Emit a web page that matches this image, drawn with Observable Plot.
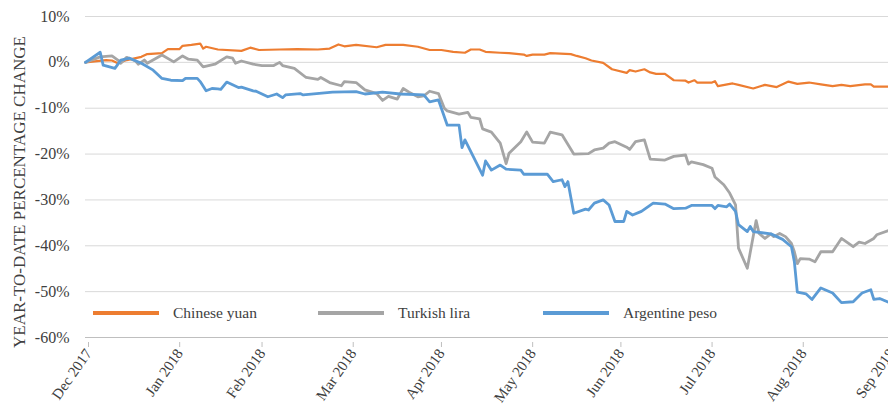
<!DOCTYPE html>
<html><head><meta charset="utf-8">
<script src="https://cdn.jsdelivr.net/npm/d3@7"></script>
<script src="https://cdn.jsdelivr.net/npm/@observablehq/plot@0.6"></script>
<style>
html,body{margin:0;padding:0;background:#fff;}
#chart{position:relative;width:888px;height:405px;overflow:hidden;font-family:"Liberation Serif",serif;}
#legend{position:absolute;left:93px;top:303px;display:flex;}
.item{width:225px;height:20px;line-height:20px;display:flex;align-items:center;font-size:15.5px;color:#404040;white-space:nowrap;}
.sw{width:66px;height:4px;margin-right:14px;flex:none;}
#ylabel{position:absolute;left:19px;top:192px;transform:translate(-50%,-50%) rotate(-90deg);white-space:nowrap;font-size:17px;color:#404040;line-height:1;}
</style></head><body><div id="chart"><div id="ylabel"></div><div id="legend"></div></div>
<script>
const seriesNames = ["Chinese yuan", "Turkish lira", "Argentine peso"];
const seriesColors = ["#ED7D31", "#A5A5A5", "#5B9BD5"];
const yTicks = [10, 0, -10, -20, -30, -40, -50, -60];
const xTickDates = ["2017-12-31","2018-01-31","2018-02-28","2018-03-31","2018-04-30","2018-05-31","2018-06-30","2018-07-31","2018-08-31","2018-09-30"];
const xTickLabels = ["Dec 2017","Jan 2018","Feb 2018","Mar 2018","Apr 2018","May 2018","Jun 2018","Jul 2018","Aug 2018","Sep 2018"];
const yLabel = "YEAR-TO-DATE PERCENTAGE CHANGE";

const chineseYuan = [
["2017-12-31",0],["2018-01-07",0.5],["2018-01-09",0.4],["2018-01-11",-0.2],["2018-01-14",0.5],["2018-01-19",1.2],["2018-01-21",1.8],["2018-01-26",2.0],["2018-01-28",2.9],
["2018-02-01",2.9],["2018-02-02",3.6],["2018-02-05",3.8],["2018-02-08",4.1],["2018-02-09",3.0],["2018-02-10",3.4],["2018-02-14",2.8],["2018-02-22",2.5],["2018-02-25",3.2],["2018-02-28",2.7],
["2018-03-07",2.8],["2018-03-13",2.9],["2018-03-20",2.8],["2018-03-24",3.0],["2018-03-27",3.9],["2018-03-29",3.5],
["2018-04-02",3.8],["2018-04-09",3.3],["2018-04-12",3.8],["2018-04-18",3.8],["2018-04-23",3.4],["2018-04-27",2.7],
["2018-05-01",2.7],["2018-05-05",2.3],["2018-05-09",2.1],["2018-05-11",2.8],["2018-05-14",2.8],["2018-05-16",2.3],["2018-05-21",2.1],["2018-05-24",2.0],["2018-05-29",1.7],["2018-05-30",1.4],
["2018-06-01",1.7],["2018-06-05",1.7],["2018-06-07",2.0],["2018-06-14",1.8],["2018-06-16",1.4],["2018-06-19",0.9],["2018-06-21",0.4],["2018-06-25",-0.1],["2018-06-28",-1.5],
["2018-07-03",-2.3],["2018-07-04",-1.7],["2018-07-06",-2.0],["2018-07-09",-1.5],["2018-07-11",-2.2],["2018-07-13",-2.5],["2018-07-16",-2.5],["2018-07-19",-3.9],["2018-07-23",-4.0],["2018-07-24",-4.4],["2018-07-26",-3.9],["2018-07-27",-4.4],
["2018-08-01",-4.4],["2018-08-02",-4.1],["2018-08-03",-5.2],["2018-08-08",-4.6],["2018-08-10",-4.9],["2018-08-15",-5.7],["2018-08-19",-4.9],["2018-08-23",-5.4],["2018-08-27",-4.2],["2018-08-30",-4.7],
["2018-09-03",-4.4],["2018-09-07",-4.8],["2018-09-11",-5.2],["2018-09-14",-4.9],["2018-09-17",-5.2],["2018-09-22",-4.8],["2018-09-24",-4.8],["2018-09-25",-5.3],["2018-09-30",-5.3]
];

const turkishLira = [
["2017-12-31",0],["2018-01-05",1.2],["2018-01-09",1.4],["2018-01-11",0.5],["2018-01-12",-0.2],["2018-01-14",1.1],["2018-01-17",0.3],["2018-01-18",-0.4],["2018-01-20",0.5],["2018-01-21",-0.2],["2018-01-26",1.6],["2018-01-30",0.1],
["2018-02-02",1.4],["2018-02-04",0.7],["2018-02-07",0.5],["2018-02-09",-1.0],["2018-02-13",-0.4],["2018-02-17",1.2],["2018-02-19",0.9],["2018-02-20",-0.2],["2018-02-22",0.3],["2018-02-26",-0.4],
["2018-03-01",-0.7],["2018-03-05",-0.7],["2018-03-07",0.0],["2018-03-08",-0.7],["2018-03-12",-1.3],["2018-03-16",-3.3],["2018-03-20",-3.7],["2018-03-21",-3.3],["2018-03-24",-4.4],["2018-03-28",-5.1],["2018-03-29",-4.2],
["2018-04-02",-4.4],["2018-04-05",-6.0],["2018-04-09",-6.8],["2018-04-11",-8.3],["2018-04-13",-7.4],["2018-04-16",-8.0],["2018-04-18",-5.7],["2018-04-20",-6.5],["2018-04-23",-7.5],["2018-04-25",-7.3],["2018-04-27",-6.3],["2018-04-30",-6.8],
["2018-05-02",-10.0],["2018-05-03",-10.6],["2018-05-07",-11.3],["2018-05-10",-10.9],["2018-05-11",-12.0],["2018-05-14",-12.3],["2018-05-15",-14.5],["2018-05-18",-15.2],["2018-05-21",-17.6],["2018-05-23",-22.1],["2018-05-24",-19.8],["2018-05-28",-17.3],["2018-05-30",-15.2],
["2018-06-01",-17.4],["2018-06-05",-17.6],["2018-06-07",-15.2],["2018-06-11",-15.8],["2018-06-15",-20.0],["2018-06-20",-19.9],["2018-06-22",-19.1],["2018-06-25",-18.7],["2018-06-27",-17.6],["2018-06-29",-17.3],
["2018-07-03",-18.5],["2018-07-04",-19.0],["2018-07-06",-17.3],["2018-07-09",-16.9],["2018-07-11",-21.1],["2018-07-16",-21.3],["2018-07-19",-20.5],["2018-07-23",-20.2],["2018-07-24",-22.2],["2018-07-25",-21.7],["2018-07-29",-22.3],
["2018-08-01",-23.1],["2018-08-02",-25.0],["2018-08-05",-26.7],["2018-08-07",-28.5],["2018-08-09",-31.1],["2018-08-10",-40.5],["2018-08-13",-44.9],["2018-08-16",-34.5],["2018-08-17",-37.3],["2018-08-19",-38.4],["2018-08-21",-37.4],["2018-08-22",-38.0],["2018-08-24",-37.3],["2018-08-26",-38.0],["2018-08-28",-39.5],["2018-08-29",-41.3],["2018-08-30",-43.9],["2018-08-31",-42.8],
["2018-09-03",-42.9],["2018-09-05",-43.5],["2018-09-07",-41.3],["2018-09-11",-41.3],["2018-09-14",-38.4],["2018-09-18",-40.2],["2018-09-20",-39.2],["2018-09-22",-39.5],["2018-09-25",-38.4],["2018-09-26",-37.6],["2018-09-30",-36.7]
];

const argentinePeso = [
["2017-12-31",0],["2018-01-05",2.2],["2018-01-06",-0.6],["2018-01-10",-1.3],["2018-01-12",0.5],["2018-01-15",0.9],["2018-01-19",-0.2],["2018-01-23",-1.7],["2018-01-26",-3.5],["2018-01-29",-3.9],
["2018-02-02",-4.0],["2018-02-03",-3.5],["2018-02-07",-3.5],["2018-02-08",-4.2],["2018-02-10",-6.2],["2018-02-12",-5.7],["2018-02-14",-5.8],["2018-02-15",-5.9],["2018-02-17",-4.3],["2018-02-21",-5.5],["2018-02-22",-5.4],["2018-02-26",-6.2],["2018-02-27",-6.3],
["2018-03-03",-7.5],["2018-03-06",-6.9],["2018-03-08",-7.7],["2018-03-09",-7.1],["2018-03-14",-6.8],["2018-03-15",-7.1],["2018-03-25",-6.5],
["2018-04-02",-6.4],["2018-04-05",-6.9],["2018-04-11",-6.5],["2018-04-17",-6.9],["2018-04-25",-7.1],["2018-04-27",-8.6],["2018-04-30",-8.2],
["2018-05-03",-13.7],["2018-05-07",-13.7],["2018-05-08",-18.6],["2018-05-09",-16.9],["2018-05-15",-24.6],["2018-05-16",-21.5],["2018-05-18",-23.5],["2018-05-21",-22.4],["2018-05-23",-23.3],["2018-05-28",-23.5],["2018-05-29",-24.4],
["2018-06-06",-24.4],["2018-06-08",-26.0],["2018-06-11",-25.6],["2018-06-12",-27.1],["2018-06-13",-26.0],["2018-06-15",-32.9],["2018-06-19",-32.0],["2018-06-20",-32.2],["2018-06-22",-30.7],["2018-06-25",-30.0],["2018-06-27",-31.1],["2018-06-29",-34.7],
["2018-07-02",-34.7],["2018-07-03",-32.5],["2018-07-05",-33.3],["2018-07-08",-32.5],["2018-07-12",-30.7],["2018-07-16",-30.9],["2018-07-19",-31.9],["2018-07-23",-31.8],["2018-07-25",-31.2],
["2018-08-01",-31.2],["2018-08-02",-31.9],["2018-08-03",-31.2],["2018-08-06",-31.5],["2018-08-07",-30.9],["2018-08-09",-32.5],["2018-08-10",-35.4],["2018-08-13",-36.9],["2018-08-14",-35.8],["2018-08-15",-36.9],["2018-08-21",-37.4],["2018-08-25",-38.6],["2018-08-28",-40.2],["2018-08-29",-43.5],["2018-08-30",-50.1],
["2018-09-02",-50.5],["2018-09-04",-51.7],["2018-09-07",-49.2],["2018-09-11",-50.3],["2018-09-14",-52.4],["2018-09-18",-52.2],["2018-09-21",-50.3],["2018-09-24",-49.6],["2018-09-25",-51.7],["2018-09-27",-51.5],["2018-09-30",-52.3]
];

const seriesData = [chineseYuan, turkishLira, argentinePeso];
const widths = [2.2, 2.8, 2.8];
const toRows = (arr, name) => arr.map(([d, v]) => ({series: name, date: new Date(d), value: v}));
const xTicks = xTickDates.map(d => new Date(d));

const plot = Plot.plot({
  width: 888, height: 405,
  marginLeft: 85, marginRight: 0, marginTop: 16, marginBottom: 68,
  style: {fontFamily: '"Liberation Serif", serif', fontSize: "16px", color: "#404040", background: "#fff", overflow: "visible"},
  x: {type: "utc", domain: [xTicks[0], xTicks[xTicks.length - 1]]},
  y: {domain: [-60, 10]},
  marks: [
    Plot.ruleY(yTicks.filter(t => t > -60), {stroke: "#d9d9d9", strokeWidth: 1}),
    Plot.axisY({ticks: yTicks, tickSize: 0, tickPadding: 16, tickFormat: d => d + "%", fontSize: 16, label: null}),
    Plot.axisX({ticks: xTicks, tickFormat: d => xTickLabels[xTicks.findIndex(t => +t === +d)],
      tickRotate: -55, tickSize: 5, tickPadding: 3, stroke: "#bfbfbf", fontSize: 15, label: null, dx: 3, dy: 5}),
    Plot.ruleY([-60], {stroke: "#bfbfbf", strokeWidth: 1}),
    ...seriesData.map((arr, i) => Plot.line(toRows(arr, seriesNames[i]), {
      x: "date", y: "value", stroke: seriesColors[i], strokeWidth: widths[i], strokeLinejoin: "round"}))
  ]
});
document.getElementById("chart").prepend(plot);
document.getElementById("ylabel").textContent = yLabel;

const legend = document.getElementById("legend");
seriesNames.forEach((name, i) => {
  const item = document.createElement("div");
  item.className = "item";
  const sw = document.createElement("span");
  sw.className = "sw";
  sw.style.background = seriesColors[i];
  const tx = document.createElement("span");
  tx.textContent = name;
  item.append(sw, tx);
  legend.append(item);
});
</script></body></html>
